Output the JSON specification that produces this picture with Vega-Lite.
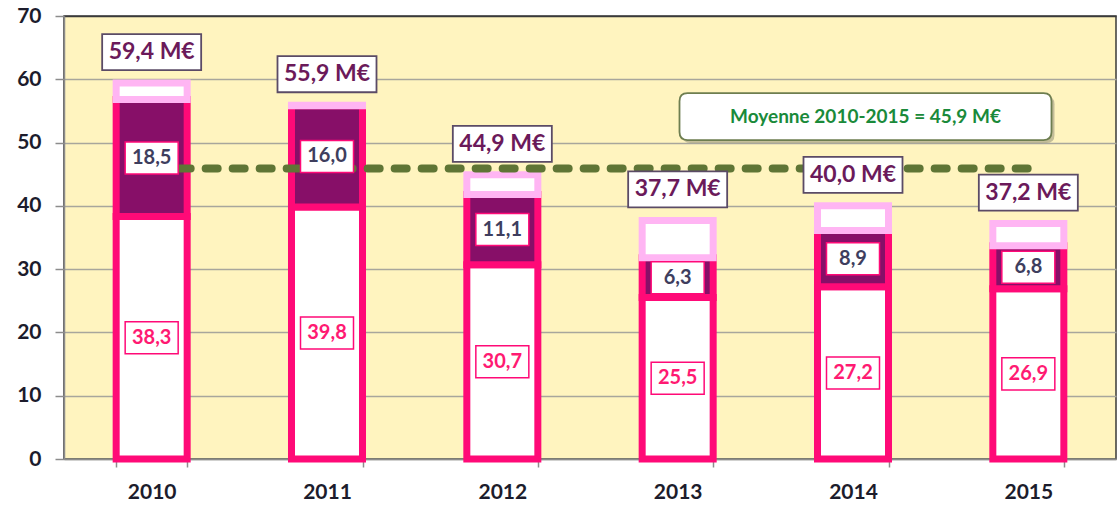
{
  "$schema": "https://vega.github.io/schema/vega-lite/v6.json",
  "width": 1052,
  "height": 443,
  "autosize": {"type": "none"},
  "padding": {"left": 64, "top": 16, "right": 4, "bottom": 46},
  "background": "#ffffff",
  "config": {
    "locale": {"number": {"decimal": ",", "thousands": " ", "grouping": [3], "currency": ["", " M€"]}},
    "view": {"fill": "#FFF4BF", "stroke": "#3a3a3a", "strokeWidth": 1.5},
    "font": "Lato"
  },
  "datasets": {
    "segments": [
      {"year": "2010", "seg": "base", "ord": 1, "value": 38.3},
      {"year": "2010", "seg": "milieu", "ord": 2, "value": 18.5},
      {"year": "2010", "seg": "haut", "ord": 3, "value": 2.6},
      {"year": "2011", "seg": "base", "ord": 1, "value": 39.8},
      {"year": "2011", "seg": "milieu", "ord": 2, "value": 16.0},
      {"year": "2011", "seg": "haut", "ord": 3, "value": 0.1},
      {"year": "2012", "seg": "base", "ord": 1, "value": 30.7},
      {"year": "2012", "seg": "milieu", "ord": 2, "value": 11.1},
      {"year": "2012", "seg": "haut", "ord": 3, "value": 3.1},
      {"year": "2013", "seg": "base", "ord": 1, "value": 25.5},
      {"year": "2013", "seg": "milieu", "ord": 2, "value": 6.3},
      {"year": "2013", "seg": "haut", "ord": 3, "value": 5.9},
      {"year": "2014", "seg": "base", "ord": 1, "value": 27.2},
      {"year": "2014", "seg": "milieu", "ord": 2, "value": 8.9},
      {"year": "2014", "seg": "haut", "ord": 3, "value": 3.9},
      {"year": "2015", "seg": "base", "ord": 1, "value": 26.9},
      {"year": "2015", "seg": "milieu", "ord": 2, "value": 6.8},
      {"year": "2015", "seg": "haut", "ord": 3, "value": 3.5}
    ],
    "totals": [
      {"year": "2010", "total": 59.4},
      {"year": "2011", "total": 55.9},
      {"year": "2012", "total": 44.9},
      {"year": "2013", "total": 37.7},
      {"year": "2014", "total": 40.0},
      {"year": "2015", "total": 37.2}
    ],
    "moyenne": [
      {"label": "Moyenne 2010-2015 = 45,9 M€", "moyenne": 45.9, "debut": "2010", "fin": "2015"}
    ]
  },
  "layer": [
    {
      "data": {"name": "segments"},
      "mark": {"type": "bar", "strokeWidth": 7},
      "encoding": {
        "x": {
          "field": "year", "type": "nominal",
          "scale": {"paddingInner": 0.595, "paddingOuter": 0.2975},
          "axis": {
            "title": null, "labelAngle": 0, "labelFont": "Lato", "labelFontWeight": "bold",
            "labelFontSize": 21, "labelColor": "#1c1c2c", "labelPadding": 14,
            "tickBand": "extent", "tickSize": 8, "tickColor": "#8c8c8c", "tickWidth": 1.5,
            "domainColor": "#8c8c8c", "domainWidth": 1.5, "grid": false
          }
        },
        "y": {
          "field": "value", "type": "quantitative", "stack": "zero",
          "scale": {"domain": [0, 70], "nice": false},
          "axis": {
            "title": null, "values": [0, 10, 20, 30, 40, 50, 60, 70],
            "labelFont": "Lato", "labelFontWeight": "bold", "labelFontSize": 21,
            "labelColor": "#1c1c2c", "labelPadding": 14, "tickSize": 9,
            "tickColor": "#8c8c8c", "tickWidth": 1.5, "domainColor": "#8c8c8c", "domainWidth": 1.5,
            "gridColor": {"condition": {"test": "datum.value === 70", "value": "#3a3a3a"}, "value": "#A8A69C"},
            "gridWidth": 1.5
          }
        },
        "order": {"field": "ord", "type": "quantitative"},
        "fill": {
          "field": "seg", "type": "nominal",
          "scale": {"domain": ["base", "milieu", "haut"], "range": ["#ffffff", "#870F68", "#ffffff"]},
          "legend": null
        },
        "stroke": {
          "field": "seg", "type": "nominal",
          "scale": {"domain": ["base", "milieu", "haut"], "range": ["#FF0A77", "#FF0A77", "#FFB5F3"]},
          "legend": null
        }
      }
    },
    {
      "data": {"name": "moyenne"},
      "mark": {"type": "rule", "strokeWidth": 8, "strokeDash": [12, 15], "strokeCap": "round", "color": "#5F7535"},
      "encoding": {
        "x": {"field": "debut", "type": "nominal"},
        "x2": {"field": "fin"},
        "y": {"field": "moyenne", "type": "quantitative"}
      }
    },
    {
      "data": {"name": "segments"},
      "transform": [{"filter": {"field": "seg", "oneOf": ["base", "milieu"]}}],
      "mark": {"type": "point", "shape": "M-1,-0.604H1V0.604H-1Z", "size": 2809, "filled": false, "fill": "#ffffff", "fillOpacity": 1, "opacity": 1, "strokeWidth": 1.5},
      "encoding": {
        "x": {"field": "year", "type": "nominal"},
        "y": {"field": "value", "type": "quantitative", "stack": "zero", "bandPosition": 0.5},
        "order": {"field": "ord", "type": "quantitative"},
        "detail": {"field": "seg"},
        "stroke": {"field": "seg", "type": "nominal", "legend": null,
          "scale": {"domain": ["base", "milieu", "haut"], "range": ["#FF0A77", "#FF0A77", "#FFB5F3"]}}
      }
    },
    {
      "data": {"name": "segments"},
      "transform": [{"filter": {"field": "seg", "oneOf": ["base", "milieu"]}}],
      "mark": {"type": "text", "font": "Lato", "fontWeight": "bold", "fontSize": 20, "baseline": "middle", "align": "center"},
      "encoding": {
        "x": {"field": "year", "type": "nominal"},
        "y": {"field": "value", "type": "quantitative", "stack": "zero", "bandPosition": 0.5},
        "order": {"field": "ord", "type": "quantitative"},
        "detail": {"field": "seg"},
        "text": {"field": "value", "type": "quantitative", "format": ".1f"},
        "color": {"field": "seg", "type": "nominal", "legend": null,
          "scale": {"domain": ["base", "milieu"], "range": ["#FF1A72", "#3E3E5E"]}}
      }
    },
    {
      "data": {"name": "totals"},
      "mark": {"type": "point", "shape": "M-1,-0.364H1V0.364H-1Z", "size": 9801, "filled": false, "fill": "#ffffff", "fillOpacity": 1, "opacity": 1, "stroke": "#5B4B66", "strokeWidth": 1.8, "yOffset": -31},
      "encoding": {
        "x": {"field": "year", "type": "nominal"},
        "y": {"field": "total", "type": "quantitative"}
      }
    },
    {
      "data": {"name": "totals"},
      "mark": {"type": "text", "font": "Lato", "fontWeight": "bold", "fontSize": 23, "color": "#6B1A5A", "baseline": "middle", "align": "center", "yOffset": -31},
      "encoding": {
        "x": {"field": "year", "type": "nominal"},
        "y": {"field": "total", "type": "quantitative"},
        "text": {"field": "total", "type": "quantitative", "format": "$.1f"}
      }
    },
    {
      "data": {"name": "moyenne"},
      "mark": {"type": "point", "shape": "M-0.957,-0.126H0.957Q1,-0.126 1,-0.083V0.083Q1,0.126 0.957,0.126H-0.957Q-1,0.126 -1,0.083V-0.083Q-1,-0.126 -0.957,-0.126Z", "size": 138384, "filled": true, "color": "#7d7d6a", "opacity": 0.45, "xOffset": 15.5, "yOffset": 3},
      "encoding": {
        "x": {"datum": "2014", "type": "nominal"},
        "y": {"datum": 54.1, "type": "quantitative"}
      }
    },
    {
      "data": {"name": "moyenne"},
      "mark": {"type": "point", "shape": "M-0.957,-0.126H0.957Q1,-0.126 1,-0.083V0.083Q1,0.126 0.957,0.126H-0.957Q-1,0.126 -1,0.083V-0.083Q-1,-0.126 -0.957,-0.126Z", "size": 138384, "filled": false, "fill": "#ffffff", "fillOpacity": 1, "opacity": 1, "stroke": "#6E7E50", "strokeWidth": 1.8, "xOffset": 12.5},
      "encoding": {
        "x": {"datum": "2014", "type": "nominal"},
        "y": {"datum": 54.1, "type": "quantitative"}
      }
    },
    {
      "data": {"name": "moyenne"},
      "mark": {"type": "text", "font": "Lato", "fontWeight": "bold", "fontSize": 19, "color": "#1A8A3A", "baseline": "middle", "align": "center", "xOffset": 12.5},
      "encoding": {
        "x": {"datum": "2014", "type": "nominal"},
        "y": {"datum": 54.1, "type": "quantitative"},
        "text": {"field": "label", "type": "nominal"}
      }
    }
  ]
}
